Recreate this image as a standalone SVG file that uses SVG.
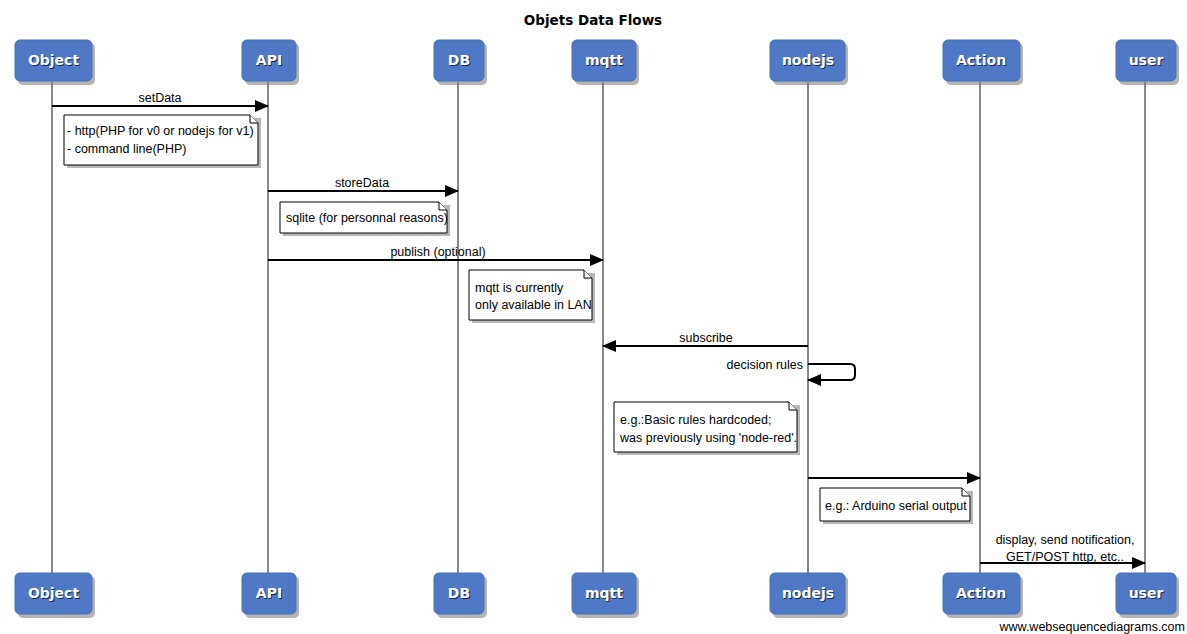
<svg xmlns="http://www.w3.org/2000/svg" width="1187" height="634" viewBox="0 0 1187 634">
<style>
.title{font-family:"DejaVu Sans",Verdana,sans-serif;font-weight:bold;font-size:13.5px;fill:#000;text-anchor:middle}
.box{fill:#4f79c6;stroke:#4570b8;stroke-width:1}
.shadow{fill:#777;opacity:0.55}
.pt{font-family:"DejaVu Sans",Verdana,sans-serif;font-weight:bold;font-size:14px;fill:#fff;text-anchor:middle}
.pts{font-family:"DejaVu Sans",Verdana,sans-serif;font-weight:bold;font-size:14px;fill:#1a2a50;text-anchor:middle}
.life{stroke:#888;stroke-width:2;fill:none}
.msg{stroke:#000;stroke-width:2;fill:none}
.lbl{font-family:"Liberation Sans",Arial,sans-serif;font-size:12.5px;fill:#000}
.note{fill:#fff;stroke:#000;stroke-width:1}
.nshadow{fill:#888;opacity:0.6}
.ear{fill:#fff;stroke:#000;stroke-width:1}
</style>
<defs>
<marker id="ah" markerWidth="14" markerHeight="12" refX="13" refY="6" orient="auto" markerUnits="userSpaceOnUse">
<path d="M0,0 L14,6 L0,12 Z" fill="#000"/>
</marker>
</defs>
<rect width="1187" height="634" fill="#fff"/>
<text class="title" x="593" y="25">Objets Data Flows</text>

<g id="lifelines">
<line class="life" x1="52" y1="82" x2="52" y2="573"/>
<line class="life" x1="268" y1="82" x2="268" y2="573"/>
<line class="life" x1="458" y1="82" x2="458" y2="573"/>
<line class="life" x1="603" y1="82" x2="603" y2="573"/>
<line class="life" x1="808" y1="82" x2="808" y2="573"/>
<line class="life" x1="980" y1="82" x2="980" y2="573"/>
<line class="life" x1="1145" y1="82" x2="1145" y2="573"/>
</g>

<g id="p-object">
<rect class="shadow" x="18" y="43" width="77" height="42" rx="5"/>
<rect class="box" x="15" y="40" width="77" height="41" rx="5"/>
<text class="pts" x="54.5" y="66">Object</text><text class="pt" x="53.5" y="65">Object</text>
<rect class="shadow" x="18" y="576" width="77" height="42" rx="5"/>
<rect class="box" x="15" y="573" width="77" height="41" rx="5"/>
<text class="pts" x="54.5" y="599">Object</text><text class="pt" x="53.5" y="598">Object</text>
</g>
<g id="p-api">
<rect class="shadow" x="245" y="43" width="54" height="42" rx="5"/>
<rect class="box" x="242" y="40" width="54" height="41" rx="5"/>
<text class="pts" x="270" y="66">API</text><text class="pt" x="269" y="65">API</text>
<rect class="shadow" x="245" y="576" width="54" height="42" rx="5"/>
<rect class="box" x="242" y="573" width="54" height="41" rx="5"/>
<text class="pts" x="270" y="599">API</text><text class="pt" x="269" y="598">API</text>
</g>
<g id="p-db">
<rect class="shadow" x="437" y="43" width="50" height="42" rx="5"/>
<rect class="box" x="434" y="40" width="50" height="41" rx="5"/>
<text class="pts" x="460" y="66">DB</text><text class="pt" x="459" y="65">DB</text>
<rect class="shadow" x="437" y="576" width="50" height="42" rx="5"/>
<rect class="box" x="434" y="573" width="50" height="41" rx="5"/>
<text class="pts" x="460" y="599">DB</text><text class="pt" x="459" y="598">DB</text>
</g>
<g id="p-mqtt">
<rect class="shadow" x="575" y="43" width="64" height="42" rx="5"/>
<rect class="box" x="572" y="40" width="64" height="41" rx="5"/>
<text class="pts" x="605" y="66">mqtt</text><text class="pt" x="604" y="65">mqtt</text>
<rect class="shadow" x="575" y="576" width="64" height="42" rx="5"/>
<rect class="box" x="572" y="573" width="64" height="41" rx="5"/>
<text class="pts" x="605" y="599">mqtt</text><text class="pt" x="604" y="598">mqtt</text>
</g>
<g id="p-nodejs">
<rect class="shadow" x="773" y="43" width="75" height="42" rx="5"/>
<rect class="box" x="770" y="40" width="75" height="41" rx="5"/>
<text class="pts" x="809" y="66">nodejs</text><text class="pt" x="808" y="65">nodejs</text>
<rect class="shadow" x="773" y="576" width="75" height="42" rx="5"/>
<rect class="box" x="770" y="573" width="75" height="41" rx="5"/>
<text class="pts" x="809" y="599">nodejs</text><text class="pt" x="808" y="598">nodejs</text>
</g>
<g id="p-action">
<rect class="shadow" x="946" y="43" width="77" height="42" rx="5"/>
<rect class="box" x="943" y="40" width="77" height="41" rx="5"/>
<text class="pts" x="982" y="66">Action</text><text class="pt" x="981" y="65">Action</text>
<rect class="shadow" x="946" y="576" width="77" height="42" rx="5"/>
<rect class="box" x="943" y="573" width="77" height="41" rx="5"/>
<text class="pts" x="982" y="599">Action</text><text class="pt" x="981" y="598">Action</text>
</g>
<g id="p-user">
<rect class="shadow" x="1119" y="43" width="60" height="42" rx="5"/>
<rect class="box" x="1116" y="40" width="60" height="41" rx="5"/>
<text class="pts" x="1147" y="66">user</text><text class="pt" x="1146" y="65">user</text>
<rect class="shadow" x="1119" y="576" width="60" height="42" rx="5"/>
<rect class="box" x="1116" y="573" width="60" height="41" rx="5"/>
<text class="pts" x="1147" y="599">user</text><text class="pt" x="1146" y="598">user</text>
</g>

<g id="connectors">
<line class="msg" x1="52" y1="106" x2="268" y2="106" marker-end="url(#ah)"/>
<text class="lbl" x="160" y="102" text-anchor="middle">setData</text>
<line class="msg" x1="268" y1="191" x2="458" y2="191" marker-end="url(#ah)"/>
<text class="lbl" x="362" y="187" text-anchor="middle">storeData</text>
<line class="msg" x1="268" y1="260" x2="603" y2="260" marker-end="url(#ah)"/>
<text class="lbl" x="438" y="256" text-anchor="middle">publish (optional)</text>
<line class="msg" x1="808" y1="346" x2="603" y2="346" marker-end="url(#ah)"/>
<text class="lbl" x="706" y="342" text-anchor="middle">subscribe</text>
<path class="msg" d="M808,364 L850,364 Q855,364 855,369 L855,375 Q855,380 850,380 L808,380" marker-end="url(#ah)"/>
<text class="lbl" x="803" y="369" text-anchor="end">decision rules</text>
<line class="msg" x1="808" y1="478" x2="980" y2="478" marker-end="url(#ah)"/>
<line class="msg" x1="980" y1="563" x2="1145" y2="563" marker-end="url(#ah)"/>
<text class="lbl" x="1065" y="544" text-anchor="middle">display, send notification,</text>
<text class="lbl" x="1065" y="561" text-anchor="middle">GET/POST http, etc..</text>
</g>

<g id="note1">
<rect class="nshadow" x="67" y="118" width="194" height="50"/>
<path class="note" d="M64,115 L250,115 L258,123 L258,165 L64,165 Z"/>
<path class="ear" d="M250,115 L250,123 L258,123"/>
<text class="lbl" x="67" y="135">- http(PHP for v0 or nodejs for v1)</text>
<text class="lbl" x="67" y="153">- command line(PHP)</text>
</g>
<g id="note2">
<rect class="nshadow" x="283" y="205" width="167" height="31"/>
<path class="note" d="M280,202 L439,202 L447,210 L447,233 L280,233 Z"/>
<path class="ear" d="M439,202 L439,210 L447,210"/>
<text class="lbl" x="286" y="222">sqlite (for personnal reasons)</text>
</g>
<g id="note3">
<rect class="nshadow" x="472" y="273" width="123" height="50"/>
<path class="note" d="M469,270 L584,270 L592,278 L592,320 L469,320 Z"/>
<path class="ear" d="M584,270 L584,278 L592,278"/>
<text class="lbl" x="475" y="292">mqtt is currently</text>
<text class="lbl" x="475" y="309">only available in LAN</text>
</g>
<g id="note4">
<rect class="nshadow" x="617" y="405" width="183" height="50"/>
<path class="note" d="M614,402 L789,402 L797,410 L797,452 L614,452 Z"/>
<path class="ear" d="M789,402 L789,410 L797,410"/>
<text class="lbl" x="620" y="424">e.g.:Basic rules hardcoded;</text>
<text class="lbl" x="620" y="442">was previously using 'node-red'.</text>
</g>
<g id="note5">
<rect class="nshadow" x="823" y="491" width="150" height="33"/>
<path class="note" d="M820,488 L962,488 L970,496 L970,521 L820,521 Z"/>
<path class="ear" d="M962,488 L962,496 L970,496"/>
<text class="lbl" x="825" y="510">e.g.: Arduino serial output</text>
</g>

<text class="lbl" x="1185" y="631" text-anchor="end" font-size="12">www.websequencediagrams.com</text>
</svg>
